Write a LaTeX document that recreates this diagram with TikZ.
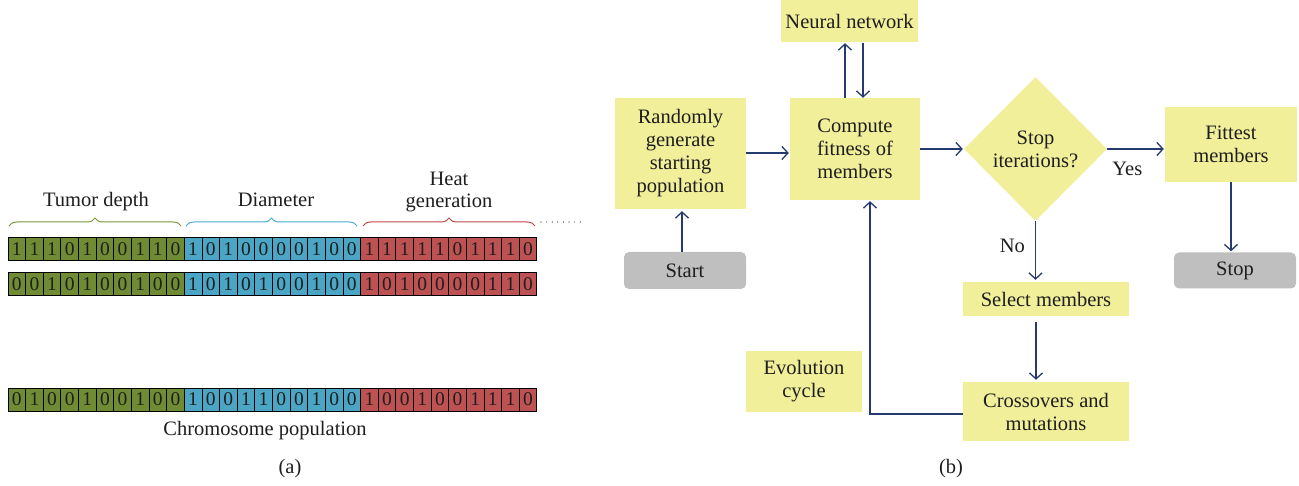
\documentclass[tikz,border=0pt]{standalone}
\usepackage{fontspec}
\setmainfont{Liberation Serif}
\usetikzlibrary{arrows.meta,shapes.geometric,decorations.pathreplacing,calc}
\definecolor{gr}{RGB}{111,140,52}
\definecolor{bl}{RGB}{74,166,196}
\definecolor{rd}{RGB}{190,82,82}
\definecolor{grb}{RGB}{120,150,60}
\definecolor{blb}{RGB}{70,170,210}
\definecolor{rdb}{RGB}{190,70,70}
\definecolor{yel}{RGB}{242,239,154}
\definecolor{gry}{RGB}{191,191,191}
\definecolor{navy}{RGB}{38,58,112}
\definecolor{txt}{RGB}{30,30,30}
\newcommand\flowfont{\fontsize{20.5}{23}\selectfont}
\newcommand\lblfont{\fontsize{20.5}{22}\selectfont}
\newcommand\bitfont{\fontsize{19.5}{20}\selectfont}
\begin{document}
\begin{tikzpicture}[x=1pt,y=-1pt,
  every node/.style={text=txt},
  box/.style={fill=yel, inner sep=0pt, align=center, font=\flowfont},
  graybox/.style={fill=gry, inner sep=0pt, rounded corners=5pt, align=center, font=\flowfont},
  cell/.style={draw=black, line width=0.8pt, inner sep=0pt, minimum width=17.63pt, minimum height=23pt, font=\bitfont},
  arr/.style={draw=navy, line width=1.4pt, -{Straight Barb[length=6pt,width=13pt,line width=1.3pt]}},
  lbl/.style={font=\lblfont, inner sep=0pt},
  brc/.style={decorate, decoration={brace, amplitude=8pt}, line width=1pt}
]
\useasboundingbox (0,0) rectangle (1299,486);

% ---------- (a) chromosome bit strings ----------
\foreach \bits/\yy/\r in {%
  {1,1,1,0,1,0,0,1,1,0,1,0,1,0,0,0,0,1,0,0,1,1,1,1,1,0,1,1,1,0}/249/1,
  {0,0,1,0,1,0,0,1,0,0,1,0,1,0,1,0,0,1,0,0,1,0,1,0,0,0,0,1,1,0}/284/2,
  {0,1,0,0,1,0,0,1,0,0,1,0,0,1,1,0,0,1,0,0,1,0,0,1,0,0,1,1,1,0}/399.5/3}{
  \foreach \b [count=\i from 0] in \bits {
    \ifnum\i<10 \def\cc{gr}\else\ifnum\i<20 \def\cc{bl}\else\def\cc{rd}\fi\fi
    \node[cell, fill=\cc] (c\r-\i) at (16.8+17.63*\i, \yy) {\b};
  }
}

\draw[brc, grb] (9,226) -- (181,226);
\draw[brc, blb] (186,226) -- (357,226);
\draw[brc, rdb] (363,226) -- (535,226);
\draw[txt, line width=1.2pt, line cap=round, dash pattern=on 0pt off 5.6pt] (541,222) -- (585,222);

\node[lbl, anchor=base] (tumor) at (96,207) {Tumor depth};
\node[lbl, anchor=base] (diam) at (276,207) {Diameter};
\node[lbl, align=center] (heat) at (449,192) {Heat\\generation};
\node[lbl] (chrom) at (265,431) {Chromosome population};
\node[lbl] (capa) at (290,469) {(a)};

% ---------- (b) flowchart ----------
\node[box, minimum width=137pt, minimum height=42pt] (neural) at (849.5,21) {Neural network};
\node[box, minimum width=131pt, minimum height=111pt] (rand) at (680.5,153.5) {Randomly\\generate\\starting\\population};
\node[box, minimum width=130pt, minimum height=102pt] (comp) at (855,149) {Compute\\fitness of\\members};
\node[graybox, minimum width=122pt, minimum height=37pt] (start) at (685,270.5) {Start};
\node[diamond, fill=yel, inner sep=0pt, minimum width=143pt, minimum height=144pt, align=center, font=\flowfont] (stopq) at (1035.5,149) {Stop\\iterations?};
\node[box, minimum width=132pt, minimum height=75pt] (fit) at (1231,144.5) {Fittest\\members};
\node[graybox, minimum width=122pt, minimum height=36pt] (stop) at (1235,270.5) {Stop};
\node[box, minimum width=166pt, minimum height=34pt] (select) at (1046,299) {Select members};
\node[box, minimum width=166pt, minimum height=59pt] (cross) at (1046,411.5) {Crossovers and\\mutations};
\node[box, minimum width=116pt, minimum height=61pt] (evo) at (804,381.5) {Evolution\\cycle};

\draw[arr, shorten >=1pt] ([xshift=-10pt]comp.north) -- ([xshift=-10pt]comp.north |- neural.south);
\draw[arr, shorten <=1pt] ([xshift=8pt]comp.north |- neural.south) -- ([xshift=8pt]comp.north);
\draw[arr, shorten >=1pt] (rand.east |- 0,153) -- (comp.west |- 0,153);
\draw[arr, shorten >=1pt] (comp.east |- stopq.west) -- (stopq.west);
\draw[arr, shorten >=1pt] (stopq.east) -- (stopq.east -| fit.west) node[lbl, pos=0.35, below=12pt] (yes) {Yes};
\draw[arr, shorten >=2pt] ([xshift=-3pt]start.north) -- ([xshift=-3pt]start.north |- rand.south);
\draw[arr, shorten >=1pt] (fit.south) -- (fit.south |- stop.north);
\draw[arr, shorten >=2pt] (stopq.south) -- (stopq.south |- select.north) node[lbl, pos=0.4, left=10pt] (no) {No};
\draw[arr, shorten <=6pt, shorten >=2pt] ([xshift=-10pt]select.south) -- ([xshift=-10pt]select.south |- cross.north);
\draw[arr, shorten >=1pt] (cross.west |- 0,414) -| ([xshift=15pt]comp.south);

\node[lbl] (capb) at (951,469) {(b)};
\end{tikzpicture}
\end{document}
